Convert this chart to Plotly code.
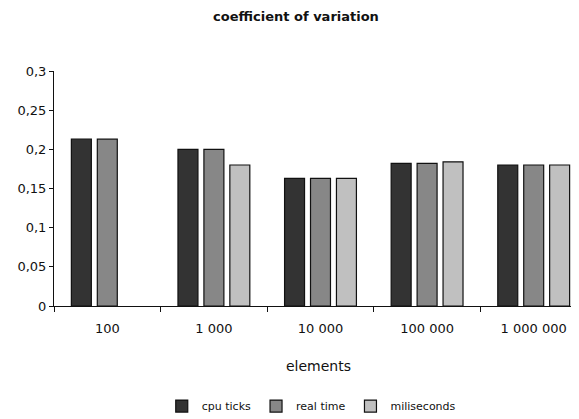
import plotly.graph_objects as go

categories = ["100", "1 000", "10 000", "100 000", "1 000 000"]
cpu_ticks = [0.213, 0.200, 0.163, 0.182, 0.180]
real_time = [0.213, 0.200, 0.163, 0.182, 0.180]
miliseconds = [None, 0.180, 0.163, 0.184, 0.180]
series_names = ["cpu ticks", "real time", "miliseconds"]
series_colors = ["#333333", "#878787", "#c0c0c0"]
y_ticks = [0, 0.05, 0.1, 0.15, 0.2, 0.25, 0.3]

fig = go.Figure()
for name, vals, col in zip(series_names, [cpu_ticks, real_time, miliseconds], series_colors):
    fig.add_trace(go.Bar(
        x=categories, y=vals, name=name,
        marker=dict(color=col, line=dict(color="#111111", width=1.2)),
    ))

FONT = "DejaVu Sans, Verdana, sans-serif"
W, H = 579, 419
L, T, B, R = 46, 63, 120, 8
fig.update_layout(
    width=W, height=H,
    margin=dict(l=L, r=R, t=T, b=B),
    paper_bgcolor="white", plot_bgcolor="white",
    separators=", ",
    barmode="group", bargap=0.27, bargroupgap=0.23,
    font=dict(family=FONT, size=12, color="#111111"),
    title=dict(text="<b>coefficient of variation</b>", x=288/W, xanchor="center",
               y=1 - 8/H, yanchor="middle", font=dict(size=13, family=FONT)),
    showlegend=True,
    legend=dict(orientation="h", x=0.49, xanchor="center", y=-0.42, yanchor="middle",
                font=dict(size=11, family=FONT), itemwidth=30, traceorder="normal",
                tracegroupgap=0),
    xaxis=dict(
        range=[-0.5, 4.425], showline=True, linecolor="#111111", linewidth=1,
        ticks="outside", ticklen=5, tickcolor="#111111", tickson="boundaries",
        showgrid=False, zeroline=False, automargin=False,
        tickfont=dict(size=13, family=FONT), ticklabelstandoff=10,
    ),
    yaxis=dict(
        range=[0, 0.3], tickvals=y_ticks, showline=True, linecolor="#111111", linewidth=1,
        ticks="outside", ticklen=4, tickcolor="#111111", showgrid=False, zeroline=False,
        tickfont=dict(size=13, family=FONT), automargin=False,
    ),
    annotations=[dict(text="elements", xref="paper", yref="paper", x=0.503, y=-0.254,
                      xanchor="center", yanchor="middle", showarrow=False,
                      font=dict(size=14, family=FONT))],
)

fig.write_html("out.html")
